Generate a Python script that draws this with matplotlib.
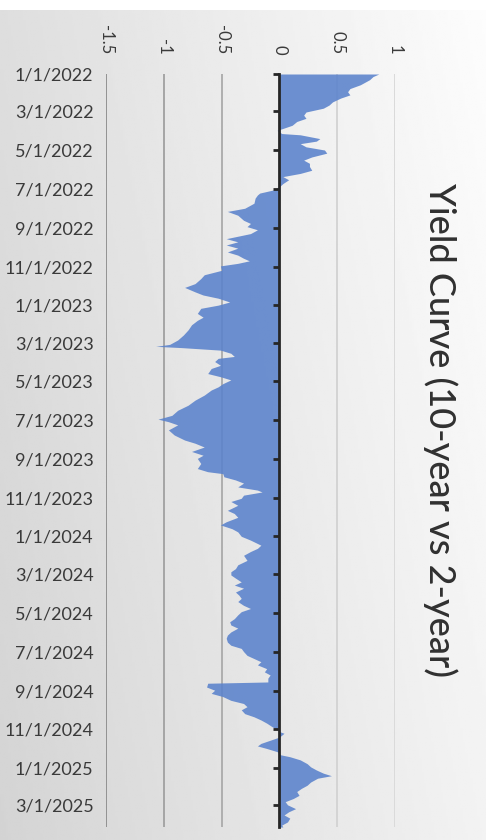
import numpy as np
import pandas as pd
import matplotlib
matplotlib.use("Agg")
import matplotlib.pyplot as plt

plt.rcParams['font.family'] = ['Lato', 'DejaVu Sans']

# data: days after 1/1/2022 and the 10y - 2y spread
start_date = pd.Timestamp('2022-01-01')
end_day = 1189
day_offsets = [
    0, 4, 9, 15, 17, 23, 28, 33, 38, 44, 49, 54, 60, 65, 70, 75, 81, 86, 89, 94,
    96, 102, 106, 110, 115, 120, 125, 131, 136, 141, 146, 152, 157, 162, 167, 173, 178, 183, 188, 191,
    196, 204, 212, 217, 223, 231, 236, 241, 246, 252, 260, 265, 270, 275, 281, 286, 291, 295, 299, 303,
    310, 317, 323, 331, 337, 344, 349, 354, 360, 365, 370, 378, 384, 389, 396, 404, 412, 420, 427, 430,
    432, 436, 441, 446, 449, 454, 460, 465, 473, 478, 483, 489, 494, 499, 507, 515, 523, 531, 539, 545,
    549, 554, 562, 570, 578, 583, 589, 596, 602, 607, 615, 623, 628, 631, 636, 641, 646, 652, 657, 660,
    665, 670, 675, 681, 689, 694, 700, 707, 712, 718, 723, 730, 736, 744, 749, 754, 760, 768, 775, 781,
    786, 791, 796, 802, 807, 812, 818, 823, 828, 833, 839, 844, 849, 854, 860, 865, 870, 875, 881, 886,
    891, 897, 902, 907, 912, 918, 923, 928, 933, 939, 944, 949, 954, 960, 962, 968, 973, 978, 983, 989,
    994, 999, 1004, 1010, 1015, 1020, 1025, 1031, 1035, 1039, 1041, 1047, 1052, 1057, 1061, 1065, 1070, 1075, 1078, 1083,
    1089, 1094, 1099, 1104, 1108, 1112, 1118, 1123, 1128, 1133, 1139, 1144, 1149, 1154, 1160, 1165, 1170, 1175, 1181, 1186,
    1189,
]
spread = [
    0.86, 0.81, 0.78, 0.72, 0.70, 0.61, 0.59, 0.61, 0.53, 0.46, 0.43, 0.38, 0.23, 0.21, 0.23, 0.15, 0.11, 0.03, -0.02, 0.02,
    0.18, 0.35, 0.32, 0.18, 0.23, 0.39, 0.41, 0.28, 0.21, 0.26, 0.26, 0.28, 0.18, 0.03, 0.08, 0.03, 0.00, -0.05, -0.17, -0.19,
    -0.21, -0.22, -0.30, -0.45, -0.36, -0.31, -0.25, -0.28, -0.19, -0.25, -0.46, -0.36, -0.46, -0.36, -0.45, -0.36, -0.31, -0.26, -0.36, -0.51,
    -0.50, -0.65, -0.68, -0.73, -0.82, -0.73, -0.66, -0.53, -0.43, -0.53, -0.68, -0.71, -0.66, -0.71, -0.76, -0.79, -0.83, -0.88, -0.95, -1.07,
    -0.85, -0.51, -0.42, -0.39, -0.53, -0.56, -0.51, -0.59, -0.62, -0.51, -0.42, -0.49, -0.53, -0.59, -0.65, -0.73, -0.79, -0.88, -0.93, -1.05,
    -0.96, -0.88, -0.96, -0.91, -0.82, -0.73, -0.65, -0.76, -0.66, -0.71, -0.68, -0.71, -0.62, -0.49, -0.48, -0.38, -0.31, -0.36, -0.19, -0.15,
    -0.31, -0.33, -0.42, -0.36, -0.45, -0.39, -0.36, -0.46, -0.51, -0.41, -0.36, -0.33, -0.25, -0.16, -0.19, -0.25, -0.31, -0.28, -0.36, -0.38,
    -0.42, -0.42, -0.38, -0.33, -0.39, -0.31, -0.38, -0.35, -0.33, -0.36, -0.31, -0.25, -0.33, -0.36, -0.39, -0.43, -0.42, -0.36, -0.42, -0.45,
    -0.46, -0.45, -0.42, -0.33, -0.31, -0.28, -0.22, -0.16, -0.19, -0.11, -0.13, -0.08, -0.10, -0.10, -0.62, -0.63, -0.56, -0.59, -0.49, -0.42,
    -0.31, -0.28, -0.33, -0.30, -0.22, -0.16, -0.11, -0.06, -0.02, 0.01, 0.04, 0.00, -0.08, -0.16, -0.19, -0.11, -0.02, 0.01, 0.09, 0.18,
    0.24, 0.27, 0.32, 0.38, 0.45, 0.33, 0.27, 0.24, 0.19, 0.15, 0.17, 0.12, 0.05, 0.07, 0.14, 0.08, 0.04, 0.09, 0.07, 0.02,
    0.03,
]

value_ticks = [-1.5, -1, -0.5, 0, 0.5, 1]
value_labels = ['-1.5', '-1', '-0.5', '0', '0.5', '1']
grid_values = [-1.5, -1, -0.5, 0.5, 1]
grid_colors = ['#8c8c8c', '#a0a0a0', '#aaaaaa', '#d2d2d2', '#d8d8d8']
title = 'Yield Curve (10-year vs 2-year)'

# tick dates every two months
tick_dates = pd.date_range('2022-01-01', '2025-03-01', freq='2MS')
tick_days = [(d - start_date).days for d in tick_dates]
tick_labels = [f'{d.month}/{d.day}/{d.year}' for d in tick_dates]

W, H = 494, 840
fig = plt.figure(figsize=(W / 100, H / 100), dpi=100)
fig.patch.set_facecolor('white')

# gray gradient panel behind the chart
bg = fig.add_axes([0, 0, 485 / W, 830 / H], zorder=-5)
gx = np.linspace(0, 1, 200)
gy = np.linspace(0, 1, 300)
GX, GY = np.meshgrid(gx, gy)
shade = 0.83 + 0.12 * GX + 0.04 * (1 - GY)
bg.imshow(shade, cmap='gray', vmin=0, vmax=1, aspect='auto', extent=[0, 1, 0, 1], origin='upper')
bg.set_xlim(0, 1)
bg.set_ylim(0, 1)
bg.axis('off')

ax = fig.add_axes([106 / W, 13 / H, 289 / W, 753 / H])
ax.patch.set_alpha(0)

for v, c in zip(grid_values, grid_colors):
    ax.axvline(v, color=c, lw=1.3, zorder=0.5)

ax.fill_betweenx(day_offsets, 0, spread, color='#5a82cc', alpha=0.88, lw=0, zorder=1)

ax.set_xlim(-1.5, 1)
ax.set_ylim(end_day, 0)

# value axis on top, rotated labels
ax.xaxis.tick_top()
ax.set_xticks(value_ticks, labels=value_labels)
ax.tick_params(axis='x', length=0, pad=14, labelrotation=-90, labelsize=12, labelcolor='#3a3a3a')

# date axis drawn at zero, labels at the left edge
for side in ['top', 'right', 'bottom']:
    ax.spines[side].set_visible(False)
ax.spines['left'].set_position(('data', 0))
ax.spines['left'].set_color('#262626')
ax.spines['left'].set_linewidth(2)
ax.spines['left'].set_zorder(3)
ax.set_yticks(tick_days)
ax.tick_params(axis='y', direction='out', length=4, width=2, color='#262626', labelleft=False)

sec = ax.secondary_yaxis(0)
sec.set_yticks(tick_days, labels=tick_labels)
sec.tick_params(axis='y', length=0, pad=9, labelsize=13, labelcolor='#3a3a3a')
sec.spines['left'].set_visible(False)

fig.text(440 / W, 1 - 430 / H, title, rotation=-90, ha='center', va='center',
         fontsize=26, fontweight='medium', color='#303030')

fig.savefig('out.png', dpi=100)
